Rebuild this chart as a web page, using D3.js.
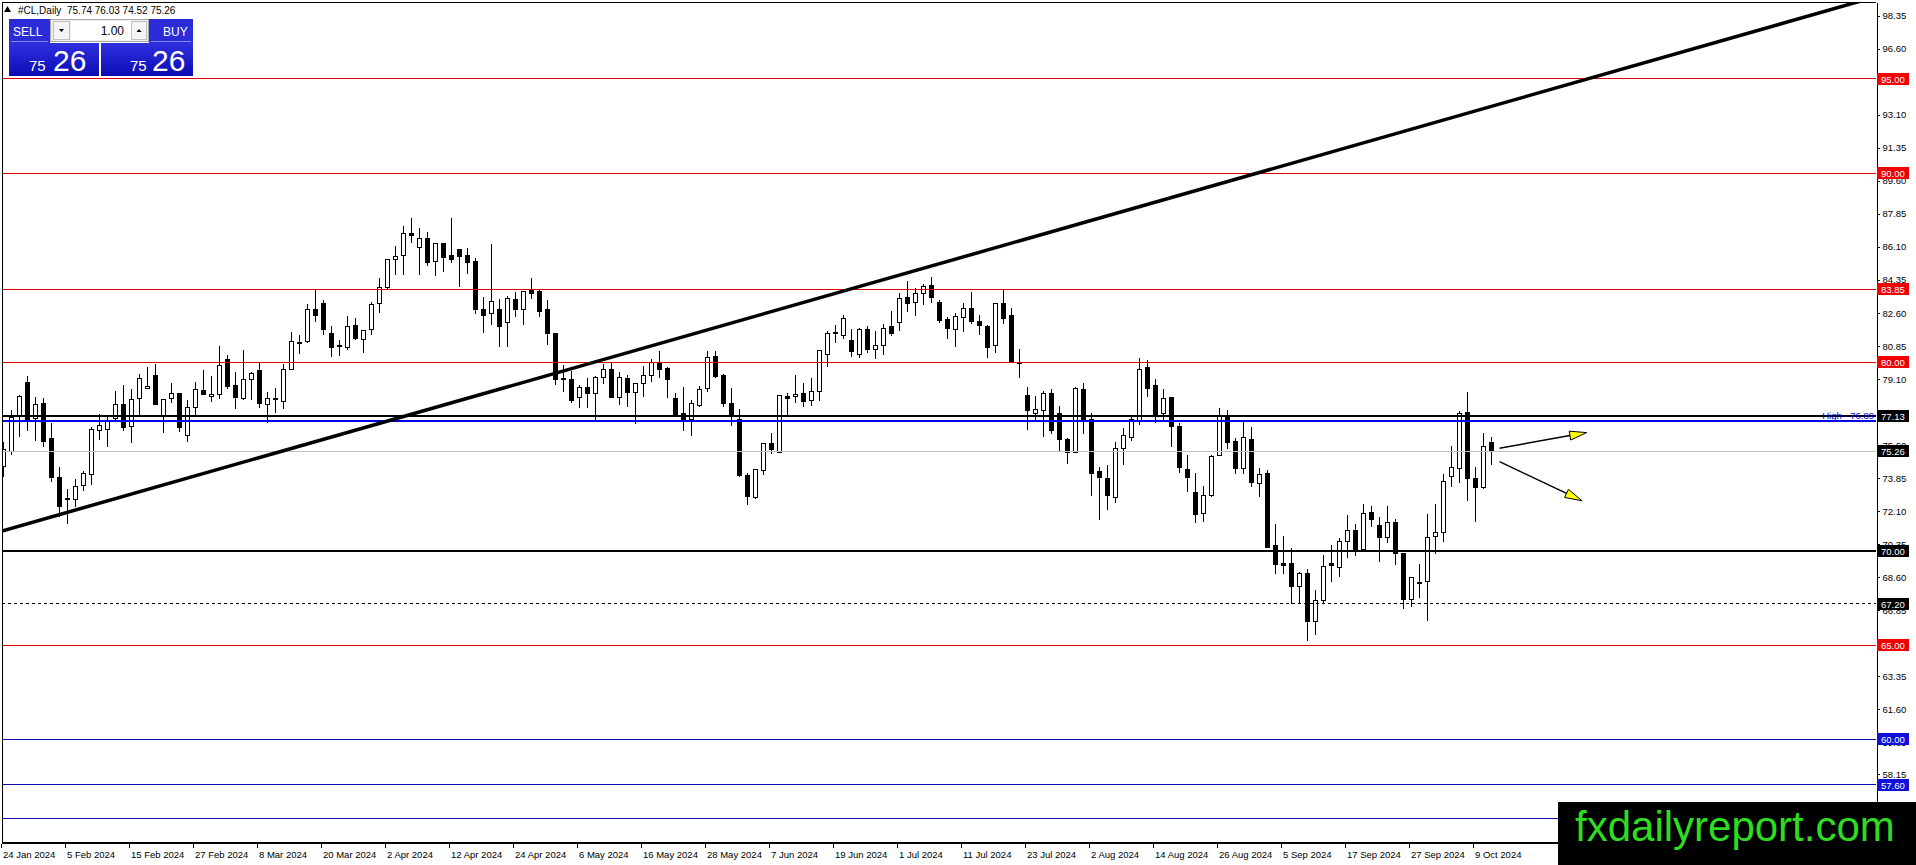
<!DOCTYPE html>
<html>
<head>
<meta charset="utf-8">
<script src="https://cdn.jsdelivr.net/npm/d3@7"></script>
<style>
    body { margin: 0; background: #fff; overflow: hidden; }
    svg { display: block; font-family: 'Liberation Sans', 'DejaVu Sans', sans-serif; }
</style>
</head>
<body>
<svg id="canvas" width="1916" height="865"></svg>
<script>
let symbolName = '#CL,Daily'
let lastBar = [75.74, 76.03, 74.52, 75.26]
let firstDay = '2024-01-24'
let lastDay = '2024-10-11'
let holidays = ['2024-03-29']

let openPrices = [
    74.46, 75.25, 77.11, 78.94, 77.02, 77.81, 75.96, 73.89, 72.79, 72.72,
    73.43, 74.05, 76.36, 76.43, 77.02, 77.76, 76.58, 78.08, 78.62, 79.30,
    77.19, 78.08, 78.34, 76.08, 77.60, 78.48, 78.17, 78.29, 80.11, 78.73,
    78.08, 79.09, 79.53, 77.76, 78.08, 77.90, 79.61, 81.05, 81.08, 82.76,
    83.11, 81.52, 80.90, 80.78, 81.93, 81.20, 81.70, 83.11, 83.96, 85.44,
    85.67, 86.82, 86.08, 86.56, 85.32, 86.29, 85.62, 85.94, 85.67, 85.35,
    82.79, 82.58, 82.79, 82.10, 83.32, 82.79, 83.78, 83.73, 82.76, 81.49,
    79.14, 79.05, 78.13, 78.66, 78.34, 79.19, 79.58, 78.13, 79.14, 78.38,
    78.84, 79.31, 79.93, 79.67, 78.08, 77.28, 76.93, 77.72, 78.61, 80.29,
    79.26, 77.81, 76.96, 74.01, 72.81, 74.24, 75.66, 75.20, 78.16, 78.16,
    78.34, 77.95, 78.43, 80.41, 81.56, 81.38, 81.12, 80.41, 81.70, 80.67,
    80.85, 81.88, 82.09, 83.43, 83.15, 83.61, 84.03, 83.15, 82.23, 81.73,
    82.37, 82.85, 82.17, 81.88, 80.85, 83.11, 82.44, 79.97, 78.25, 77.28,
    77.42, 78.34, 77.28, 75.92, 75.20, 78.55, 76.93, 74.19, 73.84, 72.83,
    75.43, 76.01, 76.89, 79.72, 78.73, 77.28, 78.13, 76.58, 74.32, 73.08,
    71.95, 72.95, 75.07, 77.14, 75.78, 74.37, 75.87, 73.54, 74.07, 70.25,
    69.30, 69.30, 68.10, 68.77, 66.24, 67.36, 69.30, 69.12, 70.48, 71.06,
    70.08, 72.02, 71.31, 70.71, 71.49, 69.86, 67.43, 68.31, 68.36, 70.75,
    70.96, 73.93, 74.37, 77.34, 73.84, 73.36, 75.74
]
let highPrices = [
    75.78, 77.46, 78.25, 79.26, 78.13, 78.08, 76.79, 74.46, 73.25, 73.78,
    74.24, 76.58, 77.25, 77.14, 78.48, 78.78, 78.55, 79.37, 79.76, 79.88,
    78.04, 78.87, 78.34, 77.99, 78.96, 79.58, 79.26, 80.85, 80.37, 79.49,
    80.64, 79.49, 79.93, 78.43, 78.64, 79.90, 81.59, 81.43, 83.08, 83.87,
    83.29, 81.91, 81.17, 82.44, 82.35, 81.70, 83.20, 84.44, 85.44, 86.15,
    87.23, 87.62, 87.09, 86.91, 86.33, 86.29, 87.62, 85.97, 86.06, 85.50,
    83.43, 86.26, 83.32, 83.50, 83.69, 83.76, 84.44, 83.82, 83.29, 81.56,
    79.84, 79.53, 78.78, 79.14, 79.26, 79.90, 79.93, 79.49, 79.31, 78.87,
    79.79, 80.14, 80.60, 79.76, 78.38, 78.66, 77.99, 78.73, 80.60, 80.60,
    79.35, 78.61, 77.49, 74.10, 74.31, 75.73, 76.22, 78.25, 78.38, 79.31,
    78.87, 79.14, 80.64, 81.66, 81.96, 82.49, 81.73, 81.79, 81.91, 81.66,
    82.02, 82.72, 83.64, 84.31, 83.91, 84.14, 84.49, 83.29, 82.40, 82.58,
    83.15, 83.69, 82.49, 81.96, 83.15, 83.82, 82.85, 80.67, 78.66, 78.20,
    78.48, 78.55, 77.67, 75.99, 78.66, 78.87, 77.28, 74.42, 74.54, 75.78,
    76.49, 77.10, 80.20, 80.11, 79.08, 78.55, 78.15, 76.79, 75.07, 74.10,
    73.43, 75.07, 77.55, 77.46, 75.96, 76.84, 76.58, 74.37, 74.28, 71.42,
    70.78, 70.13, 68.89, 69.01, 67.92, 69.77, 70.30, 70.66, 71.89, 71.42,
    72.48, 72.37, 71.77, 72.37, 71.66, 69.90, 68.63, 69.30, 71.95, 72.48,
    74.07, 75.55, 77.42, 78.43, 74.42, 76.26, 76.03
]
let lowPrices = [
    73.92, 75.07, 76.01, 76.36, 75.83, 75.48, 73.66, 71.80, 71.40, 72.30,
    73.18, 73.48, 75.87, 75.52, 76.93, 76.36, 75.73, 77.19, 78.60, 77.71,
    76.26, 77.81, 76.31, 75.78, 77.19, 78.25, 77.90, 78.02, 78.55, 77.49,
    77.99, 77.99, 77.55, 76.75, 77.32, 77.51, 79.58, 80.43, 81.03, 82.14,
    81.43, 80.29, 80.32, 80.64, 81.17, 80.50, 81.43, 82.58, 83.85, 84.61,
    84.61, 86.29, 84.61, 85.09, 84.56, 84.79, 85.27, 83.99, 84.67, 82.53,
    81.52, 81.96, 80.78, 80.82, 82.40, 81.96, 83.32, 82.37, 80.90, 78.78,
    78.43, 77.85, 77.58, 77.55, 76.93, 78.84, 78.10, 77.72, 77.64, 76.72,
    78.17, 78.96, 79.14, 78.08, 77.11, 76.36, 76.08, 77.64, 78.43, 79.14,
    77.60, 76.61, 73.93, 72.42, 72.72, 74.01, 75.13, 75.18, 77.14, 77.85,
    77.64, 77.67, 77.95, 79.72, 80.99, 81.20, 80.29, 80.20, 80.50, 80.14,
    80.37, 81.38, 81.66, 82.67, 82.44, 83.02, 83.11, 82.05, 81.20, 80.78,
    81.61, 82.02, 81.43, 80.20, 80.46, 82.00, 80.00, 79.14, 76.40, 76.89,
    76.01, 76.19, 75.30, 74.60, 75.16, 76.19, 72.90, 71.63, 72.16, 72.55,
    74.54, 75.83, 76.66, 78.13, 76.79, 76.89, 75.48, 74.14, 73.13, 71.45,
    71.54, 72.83, 75.02, 75.37, 74.07, 74.07, 73.36, 72.83, 70.13, 68.77,
    68.77, 67.18, 67.25, 65.24, 65.54, 67.18, 68.36, 68.59, 69.60, 69.72,
    70.04, 71.28, 69.42, 70.39, 69.25, 66.90, 67.04, 67.48, 66.30, 69.83,
    70.48, 73.40, 73.57, 72.65, 71.54, 73.26, 74.52
]
let closePrices = [
    75.34, 77.07, 78.17, 76.93, 77.76, 75.78, 73.89, 72.34, 72.72, 73.40,
    74.07, 76.43, 76.61, 76.89, 77.76, 76.52, 78.04, 79.14, 78.68, 77.76,
    78.02, 78.34, 76.54, 77.60, 78.52, 78.29, 78.29, 79.79, 78.70, 78.11,
    79.08, 79.40, 77.81, 78.06, 78.02, 79.61, 81.10, 80.96, 82.79, 82.46,
    81.73, 80.78, 80.80, 81.88, 81.26, 81.66, 83.06, 83.96, 85.41, 85.59,
    86.82, 86.72, 86.54, 85.27, 86.26, 85.55, 85.44, 85.59, 85.27, 82.79,
    82.46, 83.20, 81.88, 83.38, 82.79, 83.73, 83.64, 82.67, 81.52, 79.08,
    79.05, 77.95, 78.66, 78.34, 79.19, 79.58, 78.13, 79.19, 78.38, 78.84,
    79.28, 79.97, 79.61, 79.08, 77.14, 76.93, 77.78, 78.55, 80.23, 79.22,
    77.78, 77.14, 73.96, 72.87, 74.28, 75.66, 75.37, 78.20, 78.08, 78.29,
    77.90, 78.43, 80.60, 81.52, 81.49, 82.32, 80.55, 81.73, 80.67, 80.85,
    81.79, 81.49, 83.38, 83.11, 83.61, 83.99, 83.43, 82.19, 81.79, 82.40,
    82.85, 82.14, 81.93, 80.78, 83.08, 82.32, 80.02, 79.93, 77.42, 77.46,
    78.31, 76.36, 75.90, 75.20, 78.61, 76.93, 74.10, 73.89, 72.92, 75.43,
    76.08, 76.96, 79.61, 78.59, 77.14, 78.08, 76.58, 74.42, 73.89, 71.93,
    72.95, 74.99, 77.14, 75.73, 74.37, 76.01, 73.61, 74.02, 70.18, 69.25,
    69.23, 68.10, 68.77, 66.24, 67.34, 69.19, 69.23, 70.48, 71.06, 70.04,
    71.98, 71.66, 70.71, 71.49, 69.83, 67.43, 68.59, 68.27, 70.71, 70.96,
    73.66, 74.42, 77.28, 73.84, 73.36, 75.52, 75.26
]

let priceTicks = [98.35, 96.60, 94.85, 93.10, 91.35, 89.60, 87.85, 86.10, 84.35, 82.60,
    80.85, 79.10, 77.35, 75.60, 73.85, 72.10, 70.35, 68.60, 66.85, 65.10,
    63.35, 61.60, 59.85, 58.15, 56.40]
let dateLabelStep = 8

let redLevels = [95, 90, 83.85, 80, 65]
let blueLevels = [60, 57.6, 55.8]
let blackLevels = [77.13, 70]
let dashedLevels = [67.2]
let highLevel = 76.89
let bidPrice = 75.26
let trendPoints = [[0, 71.07], [184, 93.31]]
let arrowPoints = [
    [[187, 75.43], [197.9, 76.26]],
    [[187, 74.72], [197.3, 72.65]]
]
let siteName = 'fxdailyreport.com'

let canvas = d3.select('#canvas')

let parseDay = d3.timeParse('%Y-%m-%d')
let formatDay = d3.timeFormat('%Y-%m-%d')
let formatLabel = d3.timeFormat('%-d %b %Y')

let tradingDays = d3.timeDay.range(parseDay(firstDay), d3.timeDay.offset(parseDay(lastDay), 1))
    .filter((d) => d.getDay() !== 0 && d.getDay() !== 6 && !holidays.includes(formatDay(d)))

let bars = tradingDays.map((d, i) => {
    return { i: i, date: d, open: openPrices[i], high: highPrices[i], low: lowPrices[i], close: closePrices[i] }
})

// chart box of the terminal window
let plotLeft = 2, plotRight = 1876, plotTop = 2, plotBottom = 843

let xScale = d3.scaleLinear()
    .domain([0, bars.length - 1])
    .range([3.5, 3.5 + 8 * (bars.length - 1)])
let yScale = d3.scaleLinear()
    .domain([54.51, 99.08])
    .range([plotBottom, plotTop])

let defs = canvas.append('defs')
defs.append('clipPath').attr('id', 'plot')
    .append('rect')
    .attr('x', plotLeft + 0.5).attr('y', plotTop + 0.5)
    .attr('width', plotRight - plotLeft - 0.5).attr('height', plotBottom - plotTop - 0.5)

let plot = canvas.append('g').attr('clip-path', 'url(#plot)')

// candles
let candles = plot.append('g').attr('shape-rendering', 'crispEdges')
candles.selectAll('line')
    .data(bars)
    .enter()
    .append('line')
    .attr('x1', (d) => xScale(d.i))
    .attr('x2', (d) => xScale(d.i))
    .attr('y1', (d) => yScale(d.high))
    .attr('y2', (d) => yScale(d.low))
    .attr('stroke', '#000')
    .attr('stroke-width', 1)
candles.selectAll('rect')
    .data(bars)
    .enter()
    .append('rect')
    .attr('x', (d) => xScale(d.i) - 2)
    .attr('width', 4)
    .attr('y', (d) => yScale(Math.max(d.open, d.close)))
    .attr('height', (d) => Math.max(1, Math.abs(yScale(d.open) - yScale(d.close))))
    .attr('fill', (d) => d.close >= d.open ? '#fff' : '#000')
    .attr('stroke', '#000')
    .attr('stroke-width', 1)

// horizontal levels
let levels = plot.append('g').attr('shape-rendering', 'crispEdges')
let drawLevel = (price, colour, width, dash) => {
    levels.append('line')
        .attr('x1', plotLeft).attr('x2', plotRight)
        .attr('y1', yScale(price)).attr('y2', yScale(price))
        .attr('stroke', colour)
        .attr('stroke-width', width)
        .attr('stroke-dasharray', dash)
}
drawLevel(bidPrice, '#c0c0c0', 1, null)
redLevels.forEach((p) => drawLevel(p, '#e00000', 1, null))
blueLevels.forEach((p) => drawLevel(p, '#0c0ca8', 1, null))
dashedLevels.forEach((p) => drawLevel(p, '#000', 1, '3,3'))
drawLevel(highLevel, '#0000e8', 2, null)
blackLevels.forEach((p) => drawLevel(p, '#000', 2, null))

// trend line, stretched to both edges of the chart
let i0 = xScale.invert(plotLeft), i1 = xScale.invert(plotRight)
let slope = (trendPoints[1][1] - trendPoints[0][1]) / (trendPoints[1][0] - trendPoints[0][0])
let trendAt = (i) => trendPoints[0][1] + (i - trendPoints[0][0]) * slope
plot.append('line')
    .attr('x1', xScale(i0)).attr('y1', yScale(trendAt(i0)))
    .attr('x2', xScale(i1)).attr('y2', yScale(trendAt(i1)))
    .attr('stroke', '#000')
    .attr('stroke-width', 3.5)

// arrows
arrowPoints.forEach((a) => {
    let x1 = xScale(a[0][0]), y1 = yScale(a[0][1])
    let x2 = xScale(a[1][0]), y2 = yScale(a[1][1])
    let len = Math.hypot(x2 - x1, y2 - y1)
    let ux = (x2 - x1) / len, uy = (y2 - y1) / len
    let bx = x2 - ux * 17, by = y2 - uy * 17
    plot.append('line')
        .attr('x1', x1).attr('y1', y1)
        .attr('x2', bx).attr('y2', by)
        .attr('stroke', '#000')
        .attr('stroke-width', 1.5)
    plot.append('polygon')
        .attr('points', [[x2, y2], [bx - uy * 4.5, by + ux * 4.5], [bx + uy * 4.5, by - ux * 4.5]].join(' '))
        .attr('fill', '#ffff00')
        .attr('stroke', '#000')
        .attr('stroke-width', 1)
})

plot.append('text')
    .attr('x', plotRight - 2)
    .attr('y', yScale(highLevel) - 1.5)
    .attr('text-anchor', 'end')
    .attr('font-size', 9.5)
    .attr('fill', '#0000e8')
    .text('High - ' + highLevel.toFixed(2))

// frame
let frame = canvas.append('g').attr('shape-rendering', 'crispEdges')
frame.append('line').attr('x1', plotLeft).attr('x2', plotRight).attr('y1', plotTop + 0.5).attr('y2', plotTop + 0.5).attr('stroke', '#000')
frame.append('line').attr('x1', plotLeft + 0.5).attr('x2', plotLeft + 0.5).attr('y1', plotTop).attr('y2', plotBottom).attr('stroke', '#000')
frame.append('line').attr('x1', plotLeft).attr('x2', plotRight + 1).attr('y1', plotBottom).attr('y2', plotBottom).attr('stroke', '#000').attr('stroke-width', 2)

// price axis
let yAxis = d3.axisRight(yScale)
    .tickValues(priceTicks)
    .tickFormat((d) => d.toFixed(2))
    .tickSize(3)
    .tickSizeOuter(0)
    .tickPadding(3)
let yAxisGroup = canvas.append('g')
    .attr('transform', 'translate(' + (plotRight + 0.5) + ',0)')
    .call(yAxis)
yAxisGroup.select('.domain').attr('shape-rendering', 'crispEdges')
yAxisGroup.selectAll('text').attr('font-size', 9.5).attr('font-family', "'Liberation Sans', sans-serif").attr('fill', '#000')
yAxisGroup.selectAll('.tick line').attr('shape-rendering', 'crispEdges')

// date axis
let labelIndex = bars.filter((d) => d.i % dateLabelStep === 0).map((d) => d.i)
let xAxis = d3.axisBottom(xScale)
    .tickValues(labelIndex)
    .tickFormat((i) => formatLabel(tradingDays[i]))
    .tickSize(4)
    .tickPadding(3)
let xAxisGroup = canvas.append('g')
    .attr('transform', 'translate(-3,' + (plotBottom + 1) + ')')
    .call(xAxis)
xAxisGroup.select('.domain').remove()
xAxisGroup.selectAll('.tick line').attr('shape-rendering', 'crispEdges')
xAxisGroup.selectAll('text')
    .attr('text-anchor', 'start')
    .attr('dx', 2)
    .attr('font-size', 9.5)
    .attr('font-family', "'Liberation Sans', sans-serif")
    .attr('fill', '#000')

// price labels on the right scale
let priceLabels = []
redLevels.forEach((p) => priceLabels.push({ price: p, bg: '#f00000' }))
blueLevels.forEach((p) => priceLabels.push({ price: p, bg: '#1010d8' }))
dashedLevels.forEach((p) => priceLabels.push({ price: p, bg: '#000' }))
priceLabels.push({ price: blackLevels[1], bg: '#000' })
priceLabels.push({ price: bidPrice, bg: '#000' })
priceLabels.push({ price: blackLevels[0], bg: '#000' })

let tags = canvas.append('g')
    .selectAll('g')
    .data(priceLabels)
    .enter()
    .append('g')
    .attr('transform', (d) => 'translate(' + (plotRight + 1) + ',' + Math.round(yScale(d.price)) + ')')
tags.append('rect')
    .attr('x', 0).attr('y', -6)
    .attr('width', 32).attr('height', 12)
    .attr('fill', (d) => d.bg)
tags.append('text')
    .attr('x', 4).attr('y', 3.5)
    .attr('font-size', 9.5)
    .attr('fill', '#fff')
    .text((d) => d.price.toFixed(2))

// title
canvas.append('path')
    .attr('d', 'M4,12 L7.5,6 L11,12 Z')
    .attr('fill', '#000')
canvas.append('text')
    .attr('x', 18).attr('y', 13.5)
    .attr('font-size', 10)
    .attr('fill', '#000')
    .text(symbolName)
canvas.append('text')
    .attr('x', 67).attr('y', 13.5)
    .attr('font-size', 10)
    .attr('fill', '#000')
    .text(lastBar.map((v) => v.toFixed(2)).join(' '))

// one click trading panel
let panel = canvas.append('g').attr('shape-rendering', 'crispEdges')
let grad = defs.append('linearGradient')
    .attr('id', 'boxBlue').attr('x1', 0).attr('x2', 0).attr('y1', 0).attr('y2', 1)
grad.append('stop').attr('offset', '0%').attr('stop-color', '#2f2fe0')
grad.append('stop').attr('offset', '100%').attr('stop-color', '#0c0cb4')

panel.append('rect').attr('x', 9).attr('y', 19).attr('width', 41).attr('height', 24).attr('fill', '#2b2bd8')
panel.append('rect').attr('x', 149).attr('y', 19).attr('width', 44).attr('height', 24).attr('fill', '#2b2bd8')
panel.append('rect').attr('x', 9).attr('y', 43).attr('width', 90).attr('height', 33).attr('fill', 'url(#boxBlue)')
panel.append('rect').attr('x', 101).attr('y', 43).attr('width', 92).attr('height', 33).attr('fill', 'url(#boxBlue)')
panel.append('line').attr('x1', 11).attr('x2', 48).attr('y1', 41.5).attr('y2', 41.5).attr('stroke', '#8c8cf0')
panel.append('line').attr('x1', 151).attr('x2', 191).attr('y1', 41.5).attr('y2', 41.5).attr('stroke', '#8c8cf0')

panel.append('rect').attr('x', 50.5).attr('y', 19.5).attr('width', 98).attr('height', 22).attr('fill', '#ececec').attr('stroke', '#a8a8a8')
panel.append('rect').attr('x', 53.5).attr('y', 21.5).attr('width', 16).attr('height', 18).attr('fill', '#f4f4f4').attr('stroke', '#c0c0c0')
panel.append('rect').attr('x', 71).attr('y', 21).attr('width', 60).attr('height', 19).attr('fill', '#fff')
panel.append('rect').attr('x', 131.5).attr('y', 21.5).attr('width', 15).attr('height', 18).attr('fill', '#f4f4f4').attr('stroke', '#c0c0c0')
canvas.append('path').attr('d', 'M59,29 L64,29 L61.5,32 Z').attr('fill', '#000')
canvas.append('path').attr('d', 'M136.5,32 L141.5,32 L139,29 Z').attr('fill', '#000')
canvas.append('text').attr('x', 124).attr('y', 35).attr('text-anchor', 'end').attr('font-size', 12).attr('fill', '#000').text('1.00')

canvas.append('text').attr('x', 13).attr('y', 36).attr('font-size', 12).attr('fill', '#fff').text('SELL')
canvas.append('text').attr('x', 163).attr('y', 36).attr('font-size', 12).attr('fill', '#fff').text('BUY')

let quote = lastBar[3].toFixed(2).split('.')
let quoteSpots = [[29, 53], [130, 152]]
quoteSpots.forEach((pos) => {
    canvas.append('text').attr('x', pos[0]).attr('y', 71).attr('font-size', 15).attr('fill', '#fff').text(quote[0])
    canvas.append('text').attr('x', pos[1]).attr('y', 71).attr('font-size', 30).attr('fill', '#fff').text(quote[1])
})

// watermark
canvas.append('rect')
    .attr('x', 1558).attr('y', 802)
    .attr('width', 358).attr('height', 63)
    .attr('fill', '#000')
canvas.append('text')
    .attr('x', 1575).attr('y', 841)
    .attr('font-size', 42)
    .attr('font-family', "'Liberation Sans', Arial, sans-serif")
    .attr('fill', '#2fdc1f')
    .text(siteName)
</script>
</body>
</html>
